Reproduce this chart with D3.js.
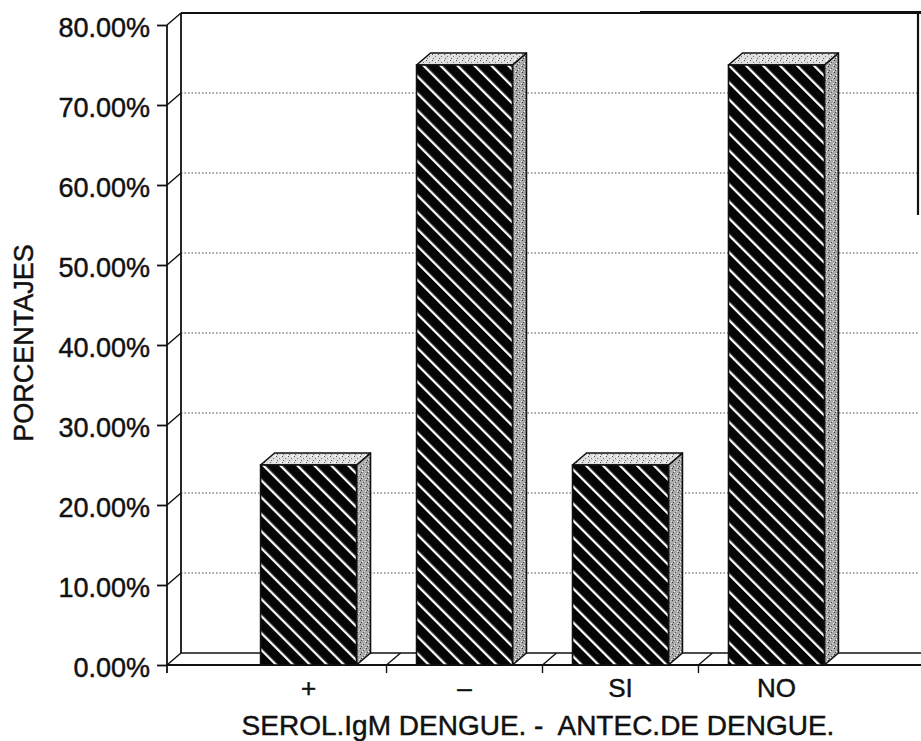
<!DOCTYPE html>
<html>
<head>
<meta charset="utf-8">
<script src="https://cdn.jsdelivr.net/npm/d3@7"></script>
<style>
  html, body { margin: 0; padding: 0; background: #fff; }
  svg { display: block; }
  text { font-family: "Liberation Sans", Arial, Helvetica, sans-serif; fill: #111; stroke: #111; stroke-width: 0.45px; }
</style>
</head>
<body>
<svg id="chart" width="921" height="741"></svg>
<script>
// Percentages by group: IgM serology (+ / –) and dengue history (SI / NO)
const categories = ["+", "–", "SI", "NO"];
const values = [25, 75, 25, 75];
const yTicks = [0, 10, 20, 30, 40, 50, 60, 70, 80];
const yTickLabels = ["0.00%", "10.00%", "20.00%", "30.00%", "40.00%", "50.00%", "60.00%", "70.00%", "80.00%"];
const yTitle = "PORCENTAJES";
const xTitle = "SEROL.IgM DENGUE. -  ANTEC.DE DENGUE.";

const svg = d3.select("#chart");
const W = 921, H = 741;

// front plane of the 3-D box and the depth offset to the back wall
const frontLeft = 167, frontRight = 918, floorY = 665;
const DX = 14, DY = -12;

const y = d3.scaleLinear().domain([0, 80]).range([floorY, 25]);
const x = d3.scaleBand().domain(categories).range([frontLeft, frontRight])
  .paddingInner(0.385).paddingOuter(0.6);

// ---- patterns ----
const defs = svg.append("defs");

const hatch = defs.append("pattern").attr("id", "hatch")
  .attr("patternUnits", "userSpaceOnUse").attr("width", 12).attr("height", 12)
  .attr("patternTransform", "rotate(-45)");
hatch.append("rect").attr("width", 12).attr("height", 12).attr("fill", "#050505");
hatch.append("rect").attr("x", 0).attr("y", 0).attr("width", 2.3).attr("height", 12).attr("fill", "#fff");

function stipple(id, base, dots) {
  const p = defs.append("pattern").attr("id", id)
    .attr("patternUnits", "userSpaceOnUse").attr("width", 6).attr("height", 6);
  p.append("rect").attr("width", 6).attr("height", 6).attr("fill", base);
  dots.forEach(([dx, dy, c]) => p.append("rect").attr("x", dx).attr("y", dy)
    .attr("width", 1).attr("height", 1).attr("fill", c));
}
stipple("topFace", "#dedede", [[0, 0, "#555"], [3, 2, "#777"], [1, 4, "#666"], [5, 5, "#fff"], [4, 0, "#fff"]]);
stipple("sideFace", "#a9a9a9", [[0, 0, "#333"], [3, 2, "#555"], [1, 4, "#444"], [5, 5, "#eee"], [4, 1, "#ddd"], [2, 3, "#fff"]]);

// ---- back wall gridlines ----
const grid = svg.append("g");
grid.selectAll("line.grid")
  .data(yTicks.filter(v => v > 0 && v < 80))
  .join("line")
  .attr("x1", frontLeft + DX).attr("x2", frontRight)
  .attr("y1", d => y(d) + DY).attr("y2", d => y(d) + DY)
  .attr("stroke", "#444").attr("stroke-width", 1)
  .attr("stroke-dasharray", "1.5,2");

// wall / floor edges
const edges = svg.append("g").attr("stroke", "#111").attr("fill", "none");
// back wall left edge and top edge
edges.append("line").attr("x1", frontLeft + DX).attr("x2", frontLeft + DX)
  .attr("y1", y(80) + DY).attr("y2", floorY + DY).attr("stroke-width", 1.8);
edges.append("line").attr("x1", frontLeft + DX).attr("x2", W)
  .attr("y1", y(80) + DY).attr("y2", y(80) + DY).attr("stroke-width", 1.8);
edges.append("line").attr("x1", 640).attr("x2", W)
  .attr("y1", y(80) + DY - 1).attr("y2", y(80) + DY - 1).attr("stroke-width", 2);
// right frame edge
edges.append("line").attr("x1", frontRight).attr("x2", frontRight)
  .attr("y1", y(80) + DY - 2).attr("y2", 215).attr("stroke-width", 2.2);
// back floor line and front floor line
edges.append("line").attr("x1", frontLeft + DX).attr("x2", W)
  .attr("y1", floorY + DY).attr("y2", floorY + DY).attr("stroke-width", 1.6);
edges.append("line").attr("x1", frontLeft).attr("x2", W)
  .attr("y1", floorY).attr("y2", floorY).attr("stroke-width", 1.8);
// front value axis
edges.append("line").attr("x1", frontLeft).attr("x2", frontLeft)
  .attr("y1", y(80)).attr("y2", floorY + 8).attr("stroke-width", 1.8);
// connectors from front axis to back wall
edges.selectAll("line.conn").data(yTicks).join("line")
  .attr("x1", frontLeft).attr("y1", d => y(d))
  .attr("x2", frontLeft + DX).attr("y2", d => y(d) + DY)
  .attr("stroke-width", 1.4);

// y axis ticks and labels
const yAxis = d3.axisLeft(y).tickValues(yTicks)
  .tickFormat((d, i) => yTickLabels[i]).tickSize(10).tickPadding(7);
const gy = svg.append("g").attr("transform", `translate(${frontLeft},0)`).call(yAxis);
gy.select(".domain").remove();
gy.selectAll(".tick line").attr("stroke", "#111").attr("stroke-width", 1.8);
gy.selectAll(".tick text").attr("font-size", 27).attr("dy", "0.42em")
  .style("font-family", "'Liberation Sans', Arial, sans-serif").attr("fill", "#111");

// category dividers on the floor
const step = x.step();
const dividers = categories.slice(0, -1).map(c => x(c) + x.bandwidth() + step * x.paddingInner() / 2);
const divG = svg.append("g").attr("stroke", "#111").attr("stroke-width", 1.4);
divG.selectAll("line.d").data(dividers).join("line")
  .attr("x1", d => d).attr("y1", floorY).attr("x2", d => d + DX).attr("y2", floorY + DY);
divG.selectAll("line.t").data(dividers).join("line")
  .attr("x1", d => d).attr("y1", floorY).attr("x2", d => d).attr("y2", floorY + 8);

// ---- bars ----
const bars = svg.append("g").selectAll("g.bar")
  .data(categories.map((c, i) => ({ c, v: values[i] })))
  .join("g");

bars.append("polygon") // side
  .attr("points", d => {
    const x1 = x(d.c) + x.bandwidth(), yt = y(d.v);
    return [[x1, yt], [x1 + DX, yt + DY], [x1 + DX, floorY + DY], [x1, floorY]].join(" ");
  })
  .attr("fill", "url(#sideFace)").attr("stroke", "#111").attr("stroke-width", 1.6)
  .attr("stroke-linejoin", "round");
bars.append("polygon") // top
  .attr("points", d => {
    const x0 = x(d.c), x1 = x0 + x.bandwidth(), yt = y(d.v);
    return [[x0, yt], [x0 + DX, yt + DY], [x1 + DX, yt + DY], [x1, yt]].join(" ");
  })
  .attr("fill", "url(#topFace)").attr("stroke", "#111").attr("stroke-width", 1.6)
  .attr("stroke-linejoin", "round");
bars.append("rect") // front
  .attr("x", d => x(d.c)).attr("y", d => y(d.v))
  .attr("width", x.bandwidth()).attr("height", d => floorY - y(d.v))
  .attr("fill", "url(#hatch)").attr("stroke", "#111").attr("stroke-width", 1.6);

// category labels
const xAxis = d3.axisBottom(x).tickSize(0).tickPadding(14);
const gx = svg.append("g").attr("transform", `translate(0,${floorY})`).call(xAxis);
gx.select(".domain").remove();
gx.selectAll(".tick text").attr("font-size", 26)
  .style("font-family", "'Liberation Sans', Arial, sans-serif").attr("fill", "#111");

// axis titles
svg.append("text").attr("x", 538).attr("y", 735)
  .attr("text-anchor", "middle").attr("font-size", 28)
  .style("white-space", "pre").text(xTitle);
svg.append("text").attr("transform", "translate(33,343) rotate(-90)")
  .attr("text-anchor", "middle").attr("font-size", 27).text(yTitle);
</script>
</body>
</html>
